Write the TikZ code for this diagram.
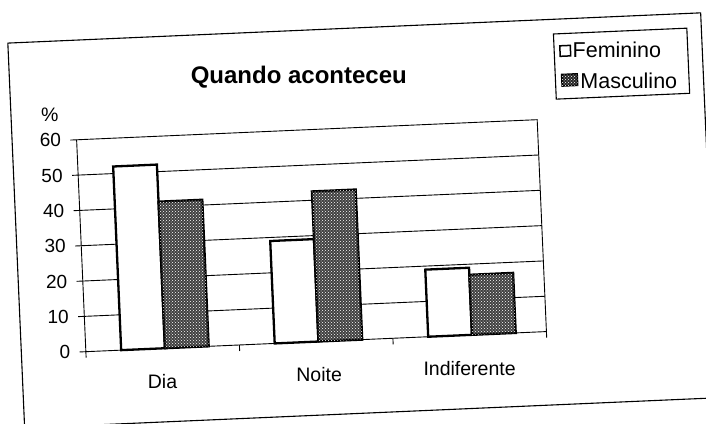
\documentclass[tikz,border=0pt]{standalone}
\usepackage{fontspec}
\setmainfont{Liberation Sans}
\usetikzlibrary{patterns}

\tikzset{
  fembar/.style={draw=black, line width=2.3pt, fill=white},
  mascbar/.style={draw=black, line width=2.3pt, fill=black!75,
    postaction={pattern=crosshatch dots, pattern color=white}},
  gridline/.style={draw=black, line width=0.9pt},
  ylab/.style={anchor=east, inner sep=0pt, font=\fontsize{19}{19}\selectfont},
  catlab/.style={inner sep=0pt, font=\fontsize{19.5}{20}\selectfont},
  legtext/.style={anchor=west, inner sep=0pt, font=\fontsize{21.5}{22}\selectfont},
}

\begin{document}
\begin{tikzpicture}[x=1pt, y=1pt]
\useasboundingbox (-353,-211.5) rectangle (353,211.5);
\begin{scope}[rotate=2.5]
% sheet frame and title
\draw[line width=1.1pt] (-337.5,-202) rectangle (356,183.3);
\node[inner sep=0pt, font=\bfseries\fontsize{24}{24}\selectfont] (title) at (-48.3,137) {Quando aconteceu};

% legend
\draw[line width=1.1pt] (208,103.4) rectangle (341.5,168.6);
\draw[line width=1.5pt, fill=white] (213.8,146) rectangle (224.3,156.5);
\draw[mascbar, line width=1.5pt, fill=black!85] (214.4,116.2) rectangle (230,127.8);
\node[legtext] (legF) at (226.3,151.8) {Feminino};
\node[legtext] (legM) at (232.7,121) {Masculino};

% plot area
\begin{scope}[shift={(-273,-128.4)}, x=153.67pt, y=3.535pt]
\draw[gridline] (-0.04,10) -- (3,10);
\draw[gridline] (-0.04,20) -- (3,20);
\draw[gridline] (-0.04,30) -- (3,30);
\draw[gridline] (-0.04,40) -- (3,40);
\draw[gridline] (-0.04,50) -- (3,50);
\draw[gridline] (-0.04,60) -- (3,60) -- (3,-1.7);
\draw[gridline] (0,-1.7) -- (0,60);
\draw[gridline] (-0.04,0) -- (3,0);
\draw[gridline] (1,0) -- (1,-1.7);
\draw[gridline] (2,0) -- (2,-1.7);

\node[ylab] (y0) at (-0.1,0) {0};
\node[ylab] (y10) at (-0.1,10) {10};
\node[ylab] (y20) at (-0.1,20) {20};
\node[ylab] (y30) at (-0.1,30) {30};
\node[ylab] (y40) at (-0.1,40) {40};
\node[ylab] (y50) at (-0.1,50) {50};
\node[ylab] (y60) at (-0.1,60) {60};
\node[catlab] (pct) at (-0.168,67.3) {\%};

\draw[fembar] (0.23,0) rectangle (0.515,52);
\draw[mascbar] (0.515,0) rectangle (0.80,41.5);
\draw[fembar] (1.23,0) rectangle (1.515,29);
\draw[mascbar] (1.515,0) rectangle (1.80,42.5);
\draw[fembar] (2.23,0) rectangle (2.515,19);
\draw[mascbar] (2.515,0) rectangle (2.80,17);

\node[catlab] (dia) at (0.49,-9.45) {Dia};
\node[catlab] (noite) at (1.51,-9.45) {Noite};
\node[catlab] (indif) at (2.49,-9.45) {Indiferente};
\end{scope}
\end{scope}
\end{tikzpicture}
\end{document}
